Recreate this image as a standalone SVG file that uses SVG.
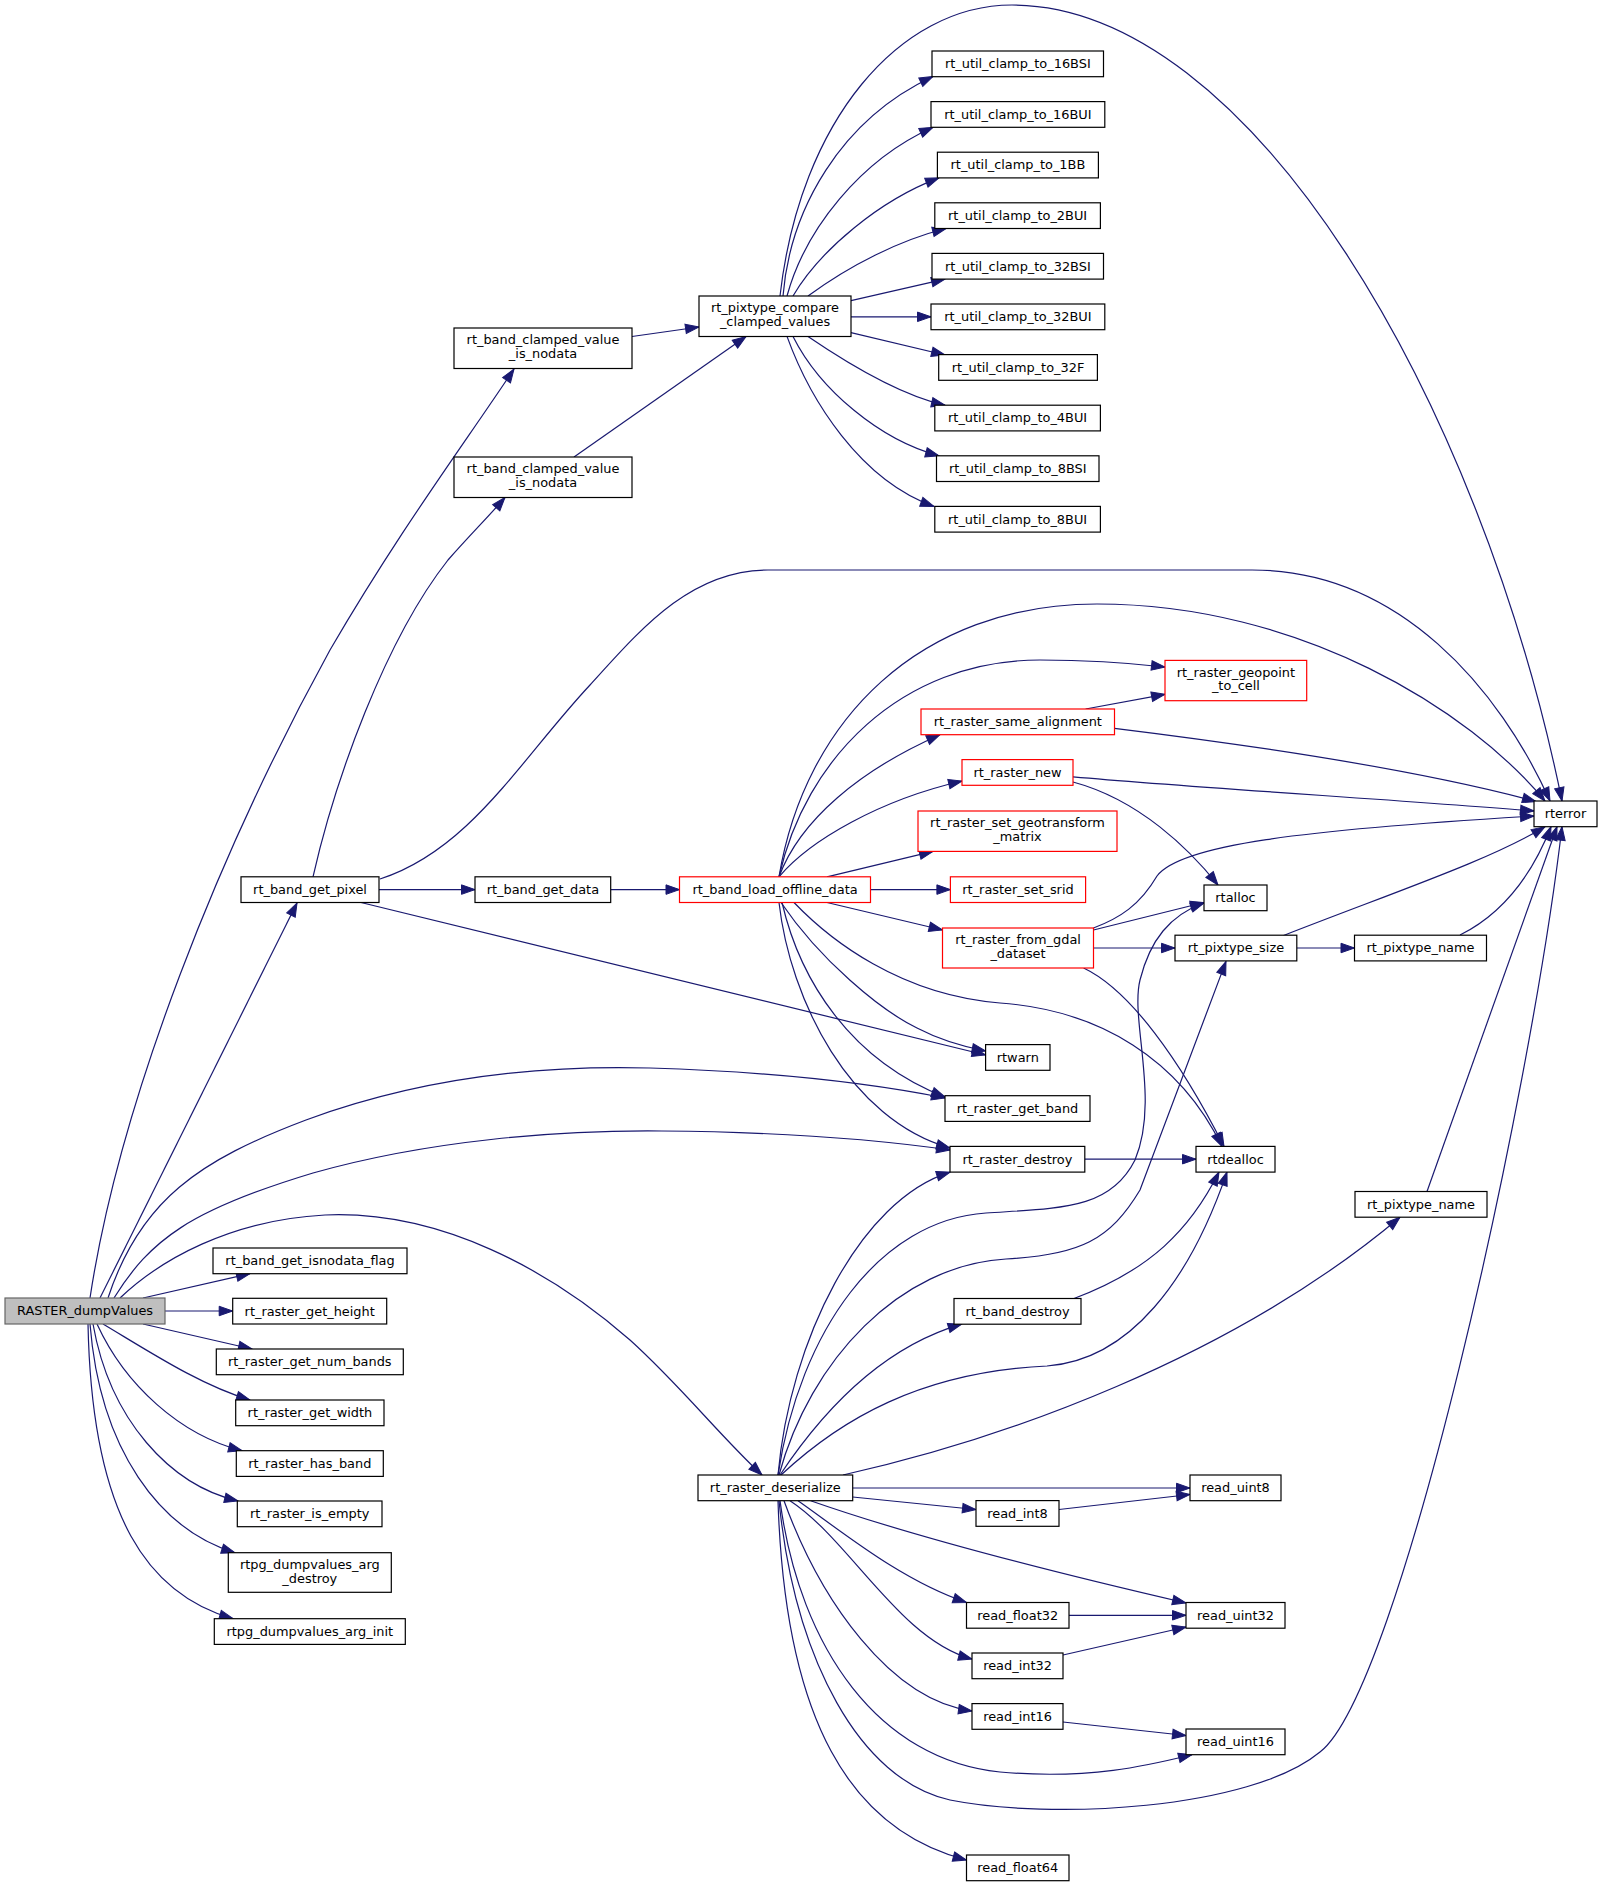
<svg xmlns="http://www.w3.org/2000/svg" width="1603" height="1887" viewBox="0 0 1603 1887">
<style>
.node rect{fill:#ffffff;stroke:#000000;stroke-width:1.2}
.node.red rect{stroke:#ff0000}
.node.main rect{fill:#bfbfbf;stroke:#666666}
.node text{font-family:"DejaVu Sans","Liberation Sans",sans-serif;font-size:12.9px;text-anchor:middle;fill:#000000}
.edges path{fill:none;stroke:#191970;stroke-width:1.2;marker-end:url(#ah)}
</style>
<defs>
<marker id="ah" markerUnits="userSpaceOnUse" markerWidth="15" markerHeight="11" refX="13.5" refY="4.75" orient="auto" overflow="visible">
<path d="M0,0 L13.5,4.75 L0,9.5 Z" fill="#191970" stroke="#191970" stroke-width="1"/>
</marker>
</defs>
<rect x="0" y="0" width="1603" height="1887" fill="#ffffff"/>
<g id="edges" class="edges">
<path d="M90,1298 C 120,1100 220,850 330,650 C 400,530 460,450 514,369"/>
<path d="M100,1298 L297,903"/>
<path d="M108,1298 C 140,1200 200,1160 306,1120 C 420,1078 540,1065 650,1068 C 780,1072 880,1085 945,1098"/>
<path d="M114,1298 C 150,1240 190,1210 313,1173 C 430,1140 560,1130 662,1131 C 780,1132 880,1140 950,1150"/>
<path d="M120,1298 C 160,1260 230,1220 325,1215 C 440,1210 550,1270 630,1340 C 680,1385 720,1436 762,1475"/>
<path d="M143,1298 L250,1273.7"/>
<path d="M165,1311 L232.7,1311"/>
<path d="M143,1324 L252,1349"/>
<path d="M103,1324 C 150,1352 200,1385 250,1400"/>
<path d="M97,1324 C 125,1385 180,1435 242,1450.7"/>
<path d="M93,1324 C 110,1420 170,1485 238,1501"/>
<path d="M90,1324 C 100,1450 160,1530 235,1552.7"/>
<path d="M88,1324 C 92,1520 150,1595 233,1618.7"/>
<path d="M632,336.5 L699,327"/>
<path d="M574,457 L746,336.5"/>
<path d="M780,296 C 800,120 900,5 1012,5 C 1250,5 1480,400 1562,801"/>
<path d="M783,296 C 790,210 840,120 933,76.5"/>
<path d="M787,296 C 805,230 860,160 933,127.3"/>
<path d="M793,296 C 820,250 880,200 939,177.9"/>
<path d="M808,296 C 850,265 900,240 946,228.5"/>
<path d="M851,300.6 L945,279.1"/>
<path d="M851,316.8 L931,316.8"/>
<path d="M851,332.6 L945,355"/>
<path d="M808,336.4 C 850,365 900,395 945,405.2"/>
<path d="M793,336.4 C 820,390 880,440 939,455.8"/>
<path d="M787,336.4 C 810,400 860,480 934,506.4"/>
<path d="M313,876.8 C 335,780 385,640 448,560 C 470,535 490,515 505,497.5"/>
<path d="M380,879 C 470,850 520,760 590,685 C 640,630 690,570 768,570 L 1252,570 C 1400,570 1500,690 1550,801"/>
<path d="M379,889.6 L475,889.6"/>
<path d="M361,902.5 L985.6,1055"/>
<path d="M610.7,889.6 L679.5,889.6"/>
<path d="M779,876.8 C 805,720 920,604 1097,604 C 1300,604 1470,710 1545,801"/>
<path d="M779,876.8 C 805,760 900,660 1040,660 C 1090,660 1130,663 1165,667"/>
<path d="M779,876.8 C 800,820 860,770 940,734.7"/>
<path d="M779,876.8 C 810,840 880,800 962,781"/>
<path d="M827,876.8 L933,851.4"/>
<path d="M870.5,889.6 L950.4,889.6"/>
<path d="M827,902.5 L942.5,930"/>
<path d="M781,902.5 C 820,960 880,1010 917,1028 C 940,1040 960,1046 985.6,1051"/>
<path d="M782,902.5 C 800,980 850,1060 945,1097"/>
<path d="M779,902.5 C 790,1000 850,1120 950,1148"/>
<path d="M794,902.5 C 830,940 900,995 1000,1003 C 1100,1010 1180,1060 1222,1146.4"/>
<path d="M1085.6,709 L1165,694.3"/>
<path d="M1114.5,728.3 C 1250,745 1420,770 1536,801.5"/>
<path d="M1073,776.8 C 1200,788 1400,800 1534,811"/>
<path d="M1073,782 C 1140,800 1190,850 1218,885"/>
<path d="M1093.5,928 C 1120,918 1140,905 1157,876 C 1180,845 1300,830 1534,816"/>
<path d="M1093.5,930 L1204,902.5"/>
<path d="M1093.5,948 L1175,948"/>
<path d="M1083.6,968 C 1130,990 1180,1060 1224,1146.4"/>
<path d="M1283,935.7 C 1400,890 1490,860 1545,826.7"/>
<path d="M1296.8,948 L1354.5,948"/>
<path d="M1460,935 C 1500,915 1530,880 1551,826.7"/>
<path d="M1084.8,1159.2 L1196,1159.2"/>
<path d="M1427,1191.5 L1557,826.7"/>
<path d="M779,1500.7 C 795,1660 860,1780 950,1800 C 1050,1820 1250,1810 1320,1752 C 1400,1690 1530,1100 1562,826.7"/>
<path d="M778,1475 C 790,1340 860,1200 950,1172.1"/>
<path d="M778,1475 C 800,1330 880,1220 986,1213 C 1060,1208 1110,1210 1135,1160 C 1160,1100 1130,1020 1140,980 C 1150,940 1170,915 1204,903"/>
<path d="M779,1475 C 810,1360 900,1265 1006,1259 C 1080,1255 1110,1240 1140,1190 L 1226,961.4"/>
<path d="M780,1475 C 830,1400 890,1345 961.6,1324.2"/>
<path d="M781,1475 C 840,1420 920,1372 1047,1366 C 1130,1360 1190,1280 1227,1172.1"/>
<path d="M1074,1298.5 C 1150,1270 1190,1230 1219,1172.1"/>
<path d="M843,1475 C 1000,1440 1230,1360 1400,1217.2"/>
<path d="M852.7,1488 L1190,1488"/>
<path d="M852.7,1497 L976,1509.5"/>
<path d="M1059,1509.5 L1190,1494.5"/>
<path d="M810.6,1500.7 C 880,1525 1000,1560 1186,1603"/>
<path d="M798,1500.7 C 840,1530 900,1580 966.5,1602.5"/>
<path d="M1069,1615.3 L1186,1615.3"/>
<path d="M790,1500.7 C 850,1540 900,1640 972,1659"/>
<path d="M1063,1655 L1186,1627"/>
<path d="M784,1500.7 C 820,1600 890,1700 972,1711"/>
<path d="M1063,1722 L1186,1735.5"/>
<path d="M780,1500.7 C 800,1650 880,1760 1000,1772 C 1090,1780 1150,1765 1192,1754.7"/>
<path d="M778,1500.7 C 785,1720 850,1830 966.5,1860"/>
</g>
<g id="n_RASTER_dumpValues" class="node main"><rect x="5" y="1298" width="160" height="26"/><text x="85" y="1315.2">RASTER_dumpValues</text></g>
<g id="n_rt_band_clamped_value_is_nodata_a" class="node"><rect x="454" y="328" width="178" height="40.5"/><text x="543" y="344.3">rt_band_clamped_value</text><text x="543" y="358">_is_nodata</text></g>
<g id="n_rt_band_clamped_value_is_nodata_b" class="node"><rect x="454" y="457" width="178" height="40.5"/><text x="543" y="473.3">rt_band_clamped_value</text><text x="543" y="487">_is_nodata</text></g>
<g id="n_rt_pixtype_compare_clamped_values" class="node"><rect x="699" y="296" width="152" height="40.5"/><text x="775" y="312.3">rt_pixtype_compare</text><text x="775" y="326">_clamped_values</text></g>
<g id="n_rt_util_clamp_to_16BSI" class="node"><rect x="932" y="51" width="171.5" height="25.7"/><text x="1017.8" y="68.2">rt_util_clamp_to_16BSI</text></g>
<g id="n_rt_util_clamp_to_16BUI" class="node"><rect x="931" y="101.6" width="173.8" height="25.7"/><text x="1017.9" y="118.8">rt_util_clamp_to_16BUI</text></g>
<g id="n_rt_util_clamp_to_1BB" class="node"><rect x="937.4" y="152.2" width="161" height="25.7"/><text x="1017.9" y="169.4">rt_util_clamp_to_1BB</text></g>
<g id="n_rt_util_clamp_to_2BUI" class="node"><rect x="934.8" y="202.8" width="165.6" height="25.7"/><text x="1017.6" y="220">rt_util_clamp_to_2BUI</text></g>
<g id="n_rt_util_clamp_to_32BSI" class="node"><rect x="932" y="253.4" width="171.5" height="25.7"/><text x="1017.8" y="270.6">rt_util_clamp_to_32BSI</text></g>
<g id="n_rt_util_clamp_to_32BUI" class="node"><rect x="931" y="304" width="173.8" height="25.7"/><text x="1017.9" y="321.2">rt_util_clamp_to_32BUI</text></g>
<g id="n_rt_util_clamp_to_32F" class="node"><rect x="938.7" y="354.6" width="158.7" height="25.7"/><text x="1018" y="371.8">rt_util_clamp_to_32F</text></g>
<g id="n_rt_util_clamp_to_4BUI" class="node"><rect x="934.8" y="405.2" width="165.6" height="25.7"/><text x="1017.6" y="422.4">rt_util_clamp_to_4BUI</text></g>
<g id="n_rt_util_clamp_to_8BSI" class="node"><rect x="936.5" y="455.8" width="162.5" height="25.7"/><text x="1017.8" y="473">rt_util_clamp_to_8BSI</text></g>
<g id="n_rt_util_clamp_to_8BUI" class="node"><rect x="934.8" y="506.4" width="165.6" height="25.7"/><text x="1017.6" y="523.6">rt_util_clamp_to_8BUI</text></g>
<g id="n_rterror" class="node"><rect x="1534" y="801" width="63" height="25.7"/><text x="1565.5" y="818.2">rterror</text></g>
<g id="n_rt_band_get_pixel" class="node"><rect x="241" y="876.8" width="138" height="25.7"/><text x="310" y="894">rt_band_get_pixel</text></g>
<g id="n_rt_band_get_data" class="node"><rect x="475" y="876.8" width="135.7" height="25.7"/><text x="542.9" y="894">rt_band_get_data</text></g>
<g id="n_rt_band_load_offline_data" class="node red"><rect x="679.5" y="876.8" width="191" height="25.7"/><text x="775" y="894">rt_band_load_offline_data</text></g>
<g id="n_rt_raster_geopoint_to_cell" class="node red"><rect x="1165" y="660.4" width="141.7" height="40.3"/><text x="1235.9" y="676.7">rt_raster_geopoint</text><text x="1235.9" y="690.4">_to_cell</text></g>
<g id="n_rt_raster_same_alignment" class="node red"><rect x="921" y="709" width="193.5" height="25.7"/><text x="1017.8" y="726.2">rt_raster_same_alignment</text></g>
<g id="n_rt_raster_new" class="node red"><rect x="962" y="759.6" width="111" height="25.7"/><text x="1017.5" y="776.8">rt_raster_new</text></g>
<g id="n_rt_raster_set_geotransform_matrix" class="node red"><rect x="918" y="811" width="199" height="40.4"/><text x="1017.5" y="827.3">rt_raster_set_geotransform</text><text x="1017.5" y="841">_matrix</text></g>
<g id="n_rt_raster_set_srid" class="node red"><rect x="950.4" y="876.8" width="135.2" height="25.7"/><text x="1018" y="894">rt_raster_set_srid</text></g>
<g id="n_rt_raster_from_gdal_dataset" class="node red"><rect x="942.5" y="928" width="151" height="40"/><text x="1018" y="944.3">rt_raster_from_gdal</text><text x="1018" y="958">_dataset</text></g>
<g id="n_rtalloc" class="node"><rect x="1204" y="885" width="63" height="25.7"/><text x="1235.5" y="902.2">rtalloc</text></g>
<g id="n_rt_pixtype_size" class="node"><rect x="1175" y="935.2" width="121.8" height="25.7"/><text x="1235.9" y="952.4">rt_pixtype_size</text></g>
<g id="n_rt_pixtype_name_a" class="node"><rect x="1354.5" y="935.2" width="132" height="25.7"/><text x="1420.5" y="952.4">rt_pixtype_name</text></g>
<g id="n_rtwarn" class="node"><rect x="985.6" y="1044.6" width="64.4" height="25.7"/><text x="1017.8" y="1061.8">rtwarn</text></g>
<g id="n_rt_raster_get_band" class="node"><rect x="945" y="1095.7" width="145" height="25.7"/><text x="1017.5" y="1112.9">rt_raster_get_band</text></g>
<g id="n_rt_raster_destroy" class="node"><rect x="950" y="1146.4" width="134.8" height="25.7"/><text x="1017.4" y="1163.6">rt_raster_destroy</text></g>
<g id="n_rtdealloc" class="node"><rect x="1196" y="1146.4" width="79" height="25.7"/><text x="1235.5" y="1163.6">rtdealloc</text></g>
<g id="n_rt_pixtype_name_b" class="node"><rect x="1355" y="1191.5" width="132" height="25.7"/><text x="1421" y="1208.7">rt_pixtype_name</text></g>
<g id="n_rt_band_get_isnodata_flag" class="node"><rect x="213" y="1248" width="194" height="25.7"/><text x="310" y="1265.2">rt_band_get_isnodata_flag</text></g>
<g id="n_rt_raster_get_height" class="node"><rect x="232.7" y="1298.3" width="154" height="25.7"/><text x="309.7" y="1315.5">rt_raster_get_height</text></g>
<g id="n_rt_raster_get_num_bands" class="node"><rect x="216.3" y="1349" width="187" height="25.7"/><text x="309.8" y="1366.2">rt_raster_get_num_bands</text></g>
<g id="n_rt_raster_get_width" class="node"><rect x="235.7" y="1400" width="148.3" height="25.7"/><text x="309.9" y="1417.2">rt_raster_get_width</text></g>
<g id="n_rt_raster_has_band" class="node"><rect x="236.3" y="1450.7" width="147" height="25.7"/><text x="309.8" y="1467.9">rt_raster_has_band</text></g>
<g id="n_rt_raster_is_empty" class="node"><rect x="237.3" y="1501" width="144.7" height="25.7"/><text x="309.7" y="1518.2">rt_raster_is_empty</text></g>
<g id="n_rtpg_dumpvalues_arg_destroy" class="node"><rect x="228.3" y="1552.7" width="163" height="39.6"/><text x="309.8" y="1569">rtpg_dumpvalues_arg</text><text x="309.8" y="1582.7">_destroy</text></g>
<g id="n_rtpg_dumpvalues_arg_init" class="node"><rect x="214.3" y="1618.7" width="191" height="25.7"/><text x="309.8" y="1635.9">rtpg_dumpvalues_arg_init</text></g>
<g id="n_rt_raster_deserialize" class="node"><rect x="698" y="1475" width="154.7" height="25.7"/><text x="775.3" y="1492.2">rt_raster_deserialize</text></g>
<g id="n_rt_band_destroy" class="node"><rect x="954" y="1298.5" width="127" height="25.7"/><text x="1017.5" y="1315.7">rt_band_destroy</text></g>
<g id="n_read_uint8" class="node"><rect x="1190" y="1475" width="91" height="25.7"/><text x="1235.5" y="1492.2">read_uint8</text></g>
<g id="n_read_int8" class="node"><rect x="976" y="1500.6" width="83" height="25.7"/><text x="1017.5" y="1517.8">read_int8</text></g>
<g id="n_read_float32" class="node"><rect x="966.5" y="1602.5" width="102.5" height="25.7"/><text x="1017.7" y="1619.7">read_float32</text></g>
<g id="n_read_uint32" class="node"><rect x="1186" y="1602.5" width="99" height="25.7"/><text x="1235.5" y="1619.7">read_uint32</text></g>
<g id="n_read_int32" class="node"><rect x="972" y="1653" width="91" height="25.7"/><text x="1017.5" y="1670.2">read_int32</text></g>
<g id="n_read_int16" class="node"><rect x="972" y="1703.6" width="91" height="25.7"/><text x="1017.5" y="1720.8">read_int16</text></g>
<g id="n_read_uint16" class="node"><rect x="1186" y="1729" width="99" height="25.7"/><text x="1235.5" y="1746.2">read_uint16</text></g>
<g id="n_read_float64" class="node"><rect x="966.5" y="1855" width="102.5" height="25.7"/><text x="1017.7" y="1872.2">read_float64</text></g>
</svg>
